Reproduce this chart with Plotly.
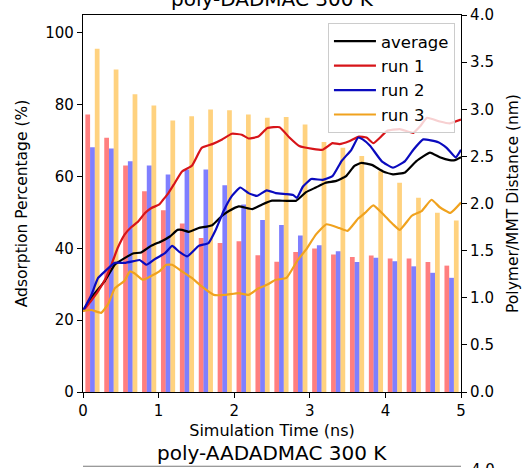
import plotly.graph_objects as go

# ---- bar data (left axis, adsorption percentage) ----
bar_times = [0.125, 0.375, 0.625, 0.875, 1.125, 1.375, 1.625, 1.875, 2.125, 2.375,
             2.625, 2.875, 3.125, 3.375, 3.625, 3.875, 4.125, 4.375, 4.625, 4.875]
ads_run1 = [77.3, 70.8, 63.1, 55.9, 50.6, 46.9, 42.9, 41.5, 42.0, 38.1,
            36.3, 39.0, 40.0, 38.3, 37.6, 38.0, 37.2, 37.2, 36.2, 35.2]
ads_run2 = [68.2, 67.8, 64.3, 63.1, 60.6, 62.0, 62.0, 57.6, 52.2, 47.9,
            46.5, 43.6, 40.9, 39.2, 36.2, 37.4, 36.4, 35.0, 33.2, 31.8]
ads_run3 = [95.6, 89.8, 82.9, 79.8, 75.6, 76.8, 78.7, 78.5, 77.3, 76.4,
            76.6, 74.5, 69.6, 68.0, 65.7, 61.5, 58.3, 54.1, 49.9, 47.8]

# ---- line data (right axis, distance in nm) ----
t_run1 = [0, 0.10, 0.20, 0.29, 0.38, 0.46, 0.55, 0.64, 0.73, 0.82, 0.90, 1.01, 1.06, 1.12, 1.20,
          1.31, 1.44, 1.57, 1.71, 1.84, 1.97, 2.10, 2.19, 2.32, 2.44, 2.60, 2.73, 2.86, 3.04,
          3.17, 3.30, 3.39, 3.52, 3.65, 3.75, 3.84, 3.93, 4.02, 4.19, 4.37, 4.46, 4.55, 4.72,
          4.85, 5.0]
d_run1 = [0.86, 0.96, 1.07, 1.19, 1.36, 1.53, 1.67, 1.75, 1.81, 1.90, 1.95, 1.99, 2.04, 2.10, 2.20,
          2.34, 2.40, 2.59, 2.63, 2.68, 2.74, 2.73, 2.69, 2.71, 2.80, 2.81, 2.70, 2.61, 2.58,
          2.57, 2.64, 2.63, 2.66, 2.71, 2.70, 2.64, 2.70, 2.77, 2.79, 2.75, 2.82, 2.91, 2.87,
          2.85, 2.89]

t_run2 = [0, 0.11, 0.20, 0.29, 0.42, 0.55, 0.68, 0.75, 0.84, 0.95, 1.08, 1.18, 1.27, 1.38,
          1.53, 1.66, 1.75, 1.86, 1.97, 2.08, 2.19, 2.30, 2.43, 2.55, 2.69, 2.78, 2.83, 2.91,
          3.02, 3.17, 3.30, 3.42, 3.55, 3.64, 3.70, 3.80, 3.95, 4.10, 4.26, 4.37, 4.50, 4.70,
          4.81, 4.93, 5.0]
d_run2 = [0.86, 1.03, 1.21, 1.28, 1.37, 1.37, 1.39, 1.40, 1.35, 1.41, 1.47, 1.55, 1.49, 1.44,
          1.55, 1.58, 1.71, 1.92, 2.08, 2.17, 2.11, 2.08, 2.14, 2.11, 2.10, 2.09, 2.06, 2.18,
          2.26, 2.25, 2.29, 2.45, 2.57, 2.70, 2.68, 2.61, 2.45, 2.38, 2.45, 2.57, 2.68, 2.65,
          2.59, 2.49, 2.57]

t_avg = [0, 0.11, 0.29, 0.42, 0.55, 0.66, 0.77, 0.90, 1.04, 1.15, 1.25, 1.31, 1.40, 1.53,
         1.71, 1.84, 1.93, 2.06, 2.24, 2.37, 2.50, 2.60, 2.82, 2.95, 3.08, 3.21, 3.35, 3.48,
         3.59, 3.68, 3.82, 3.97, 4.10, 4.26, 4.41, 4.59, 4.72, 4.85, 4.92, 5.0]
d_avg = [0.86, 1.00, 1.18, 1.35, 1.42, 1.47, 1.48, 1.55, 1.60, 1.65, 1.72, 1.72, 1.70, 1.74,
         1.77, 1.87, 1.92, 1.97, 1.94, 1.99, 2.03, 2.03, 2.03, 2.12, 2.17, 2.22, 2.24, 2.29,
         2.40, 2.43, 2.41, 2.34, 2.31, 2.33, 2.45, 2.54, 2.49, 2.46, 2.46, 2.49]

t_run3 = [0, 0.11, 0.24, 0.33, 0.42, 0.55, 0.62, 0.68, 0.79, 0.90, 1.01, 1.10, 1.18, 1.31,
          1.44, 1.57, 1.73, 1.88, 2.06, 2.19, 2.32, 2.44, 2.55, 2.69, 2.84, 2.95, 3.08, 3.22,
          3.39, 3.50, 3.64, 3.73, 3.84, 3.99, 4.10, 4.19, 4.35, 4.48, 4.61, 4.72, 4.86, 5.0]
d_run3 = [0.86, 0.87, 0.84, 0.93, 1.10, 1.18, 1.28, 1.26, 1.19, 1.23, 1.28, 1.35, 1.35, 1.28,
          1.21, 1.12, 1.03, 1.03, 1.05, 1.03, 1.10, 1.14, 1.19, 1.21, 1.40, 1.51, 1.67, 1.78,
          1.74, 1.71, 1.84, 1.90, 1.98, 1.87, 1.78, 1.72, 1.87, 1.92, 2.04, 1.96, 1.90, 2.01]

x_ticks = [0, 1, 2, 3, 4, 5]
left_ticks = [0, 20, 40, 60, 80, 100]
right_ticks = [0.0, 0.5, 1.0, 1.5, 2.0, 2.5, 3.0, 3.5, 4.0]

FONT = "DejaVu Sans"
BW = 0.0625

fig = go.Figure()

for vals, col, off in [(ads_run1, "rgba(255,0,0,0.5)", -1.5 * BW),
                       (ads_run2, "rgba(0,0,255,0.5)", -0.5 * BW),
                       (ads_run3, "rgba(255,165,0,0.5)", 0.5 * BW)]:
    fig.add_trace(go.Bar(x=bar_times, y=vals, width=BW, offset=off,
                         marker=dict(color=col, line=dict(width=0)),
                         showlegend=False, yaxis="y"))

line_specs = [("average", t_avg, d_avg, "black"),
              ("run 1", t_run1, d_run1, "rgb(215,20,25)"),
              ("run 2", t_run2, d_run2, "rgb(10,10,190)"),
              ("run 3", t_run3, d_run3, "rgb(240,162,30)")]
for name, tx, dy, col in line_specs:
    fig.add_trace(go.Scatter(x=tx, y=dy, mode="lines", name=name, legendgroup=name,
                             line=dict(color=col, width=2.2, shape="spline", smoothing=0.4),
                             yaxis="y2"))

axis_common = dict(showline=True, linecolor="black", linewidth=1.2, ticks="outside",
                   ticklen=5, tickwidth=1.2, tickcolor="black", showgrid=False, zeroline=False,
                   automargin=False,
                   tickfont=dict(family=FONT, size=15, color="black"))

fig.update_layout(
    width=528, height=468,
    margin=dict(l=83, r=67, t=15, b=76, autoexpand=False),
    paper_bgcolor="white", plot_bgcolor="white",
    barmode="overlay",
    font=dict(family=FONT, color="black"),
    xaxis=dict(range=[0, 5], tickvals=x_ticks, mirror=True,
               title=dict(text="Simulation Time (ns)", font=dict(family=FONT, size=16), standoff=5),
               **axis_common),
    yaxis=dict(range=[0, 105], tickvals=left_ticks,
               title=dict(text="Adsorption Percentage (%)", font=dict(family=FONT, size=15.5), standoff=13),
               **axis_common),
    yaxis2=dict(range=[0, 4], tickvals=right_ticks, tickformat=".1f", overlaying="y", side="right",
                title=dict(text="Polymer/MMT Distance (nm)", font=dict(family=FONT, size=15.5), standoff=14),
                **axis_common),
    legend=dict(x=0.984, y=0.979, xanchor="right", yanchor="top",
                bgcolor="rgba(255,255,255,0.8)", bordercolor="#cccccc", borderwidth=1,
                font=dict(family=FONT, size=16.5), tracegroupgap=3, itemwidth=42,
                traceorder="normal"),
    annotations=[
        dict(text="poly-DADMAC 300 K", xref="paper", yref="paper", x=0.5, y=1.042,
             xanchor="center", yanchor="middle", showarrow=False,
             font=dict(family=FONT, size=20, color="black")),
        dict(text="poly-AADADMAC 300 K", xref="paper", yref="paper", x=0.5, y=-0.162,
             xanchor="center", yanchor="middle", showarrow=False,
             font=dict(family=FONT, size=20, color="black")),
        dict(text="4.0", xref="paper", yref="paper", x=1.02, y=-0.207,
             xanchor="left", yanchor="middle", showarrow=False,
             font=dict(family=FONT, size=15, color="black")),
    ],
    shapes=[dict(type="line", xref="paper", yref="paper", x0=0, x1=1, y0=-0.197, y1=-0.197,
                 line=dict(color="rgb(120,120,120)", width=1.2))],
)

fig.write_html("out.html", config={"displayModeBar": False},
               post_script="document.body.style.margin='0';document.body.style.overflow='hidden';")
